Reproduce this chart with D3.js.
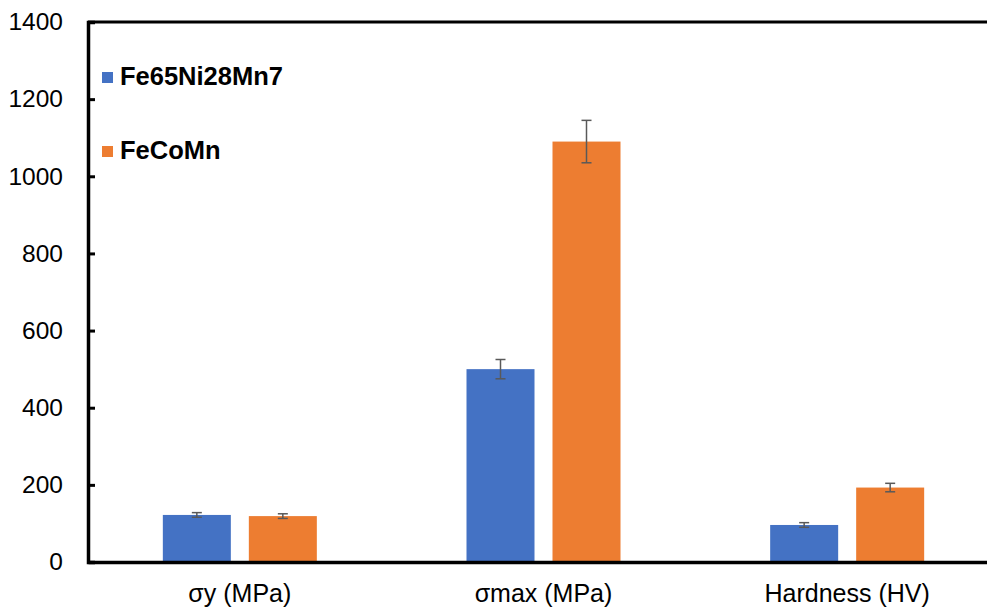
<!DOCTYPE html>
<html>
<head>
<meta charset="utf-8">
<script src="https://cdn.jsdelivr.net/npm/d3@7"></script>
<style>
  html, body { margin: 0; padding: 0; background: #fff; }
  svg { display: block; }
  text { font-family: "Liberation Sans", Arial, sans-serif; fill: #000; }
</style>
</head>
<body>
<svg id="chart" width="987" height="608"></svg>
<script>
// Mechanical properties of the two alloys
const categories = ["σy (MPa)", "σmax (MPa)", "Hardness (HV)"];
const seriesNames = ["Fe65Ni28Mn7", "FeCoMn"];
const fe65Values = [122, 500, 96];
const fe65Errors = [6, 25, 6];
const fecomnValues = [119, 1090, 193];
const fecomnErrors = [6, 55, 11];
const yTicks = [0, 200, 400, 600, 800, 1000, 1200, 1400];

const colors = ["#4472C4", "#ED7D31"];
const series = [
  { name: seriesNames[0], values: fe65Values, errors: fe65Errors, color: colors[0] },
  { name: seriesNames[1], values: fecomnValues, errors: fecomnErrors, color: colors[1] }
];

const svg = d3.select("#chart");
const margin = { left: 88, top: 22, right: -12, bottom: 46 };
const width = 987 - margin.left - margin.right;
const height = 608 - margin.top - margin.bottom;

const g = svg.append("g").attr("transform", `translate(${margin.left},${margin.top})`);

const x0 = d3.scaleBand().domain(categories).range([0, width]).paddingInner(0).paddingOuter(0);
// two bars of a cluster plus the gap between them
const groupInner = 154;
const x1 = d3.scaleBand().domain(seriesNames)
  .range([x0.bandwidth() / 2 - groupInner / 2, x0.bandwidth() / 2 + groupInner / 2])
  .paddingInner(18 / 86).paddingOuter(0);
const y = d3.scaleLinear().domain([0, 1400]).range([height, 0]);

// bars
const groups = g.selectAll("g.cat").data(categories).enter().append("g")
  .attr("class", "cat")
  .attr("transform", d => `translate(${x0(d)},0)`);

series.forEach(s => {
  groups.append("rect")
    .attr("x", x1(s.name))
    .attr("width", x1.bandwidth())
    .attr("y", (d, i) => y(s.values[i]))
    .attr("height", (d, i) => y(0) - y(s.values[i]))
    .attr("fill", s.color);
});

// error bars
series.forEach(s => {
  const cx = x1(s.name) + x1.bandwidth() / 2;
  const eb = groups.append("g").attr("stroke", "#595959").attr("stroke-width", 1.5).attr("fill", "none");
  eb.append("line")
    .attr("x1", cx).attr("x2", cx)
    .attr("y1", (d, i) => y(s.values[i] + s.errors[i]))
    .attr("y2", (d, i) => y(s.values[i] - s.errors[i]));
  eb.append("line")
    .attr("x1", cx - 5).attr("x2", cx + 5)
    .attr("y1", (d, i) => y(s.values[i] + s.errors[i]))
    .attr("y2", (d, i) => y(s.values[i] + s.errors[i]));
  eb.append("line")
    .attr("x1", cx - 5).attr("x2", cx + 5)
    .attr("y1", (d, i) => y(s.values[i] - s.errors[i]))
    .attr("y2", (d, i) => y(s.values[i] - s.errors[i]));
});

// frame: top line and axes
g.append("line").attr("x1", 0).attr("x2", width).attr("y1", 0).attr("y2", 0)
  .attr("stroke", "#000").attr("stroke-width", 3);

const yAxis = g.append("g")
  .call(d3.axisLeft(y).tickValues(yTicks).tickSize(-7).tickPadding(25).tickFormat(d3.format("d")));
yAxis.select(".domain").attr("stroke", "#000").attr("stroke-width", 3.5);
yAxis.selectAll(".tick line").attr("stroke", "#000").attr("stroke-width", 3);
yAxis.selectAll(".tick text")
  .attr("font-size", 24.5)
  .attr("font-family", "Liberation Sans, Arial, sans-serif")
  .attr("fill", "#000");

const xAxis = g.append("g").attr("transform", `translate(0,${height})`)
  .call(d3.axisBottom(x0).tickSize(0).tickPadding(22));
xAxis.select(".domain").attr("stroke", "#000").attr("stroke-width", 3.5);
xAxis.selectAll(".tick text")
  .attr("font-size", 25)
  .attr("font-family", "Liberation Sans, Arial, sans-serif")
  .attr("fill", "#000");

// legend
const legend = svg.append("g").attr("transform", "translate(102,72)");
series.forEach((s, i) => {
  const row = legend.append("g").attr("transform", `translate(0,${i * 74})`);
  row.append("rect").attr("width", 11).attr("height", 11).attr("fill", s.color);
  row.append("text").attr("x", 18).attr("y", 13)
    .attr("font-size", 25.5).attr("font-weight", "bold").text(s.name);
});
</script>
</body>
</html>
